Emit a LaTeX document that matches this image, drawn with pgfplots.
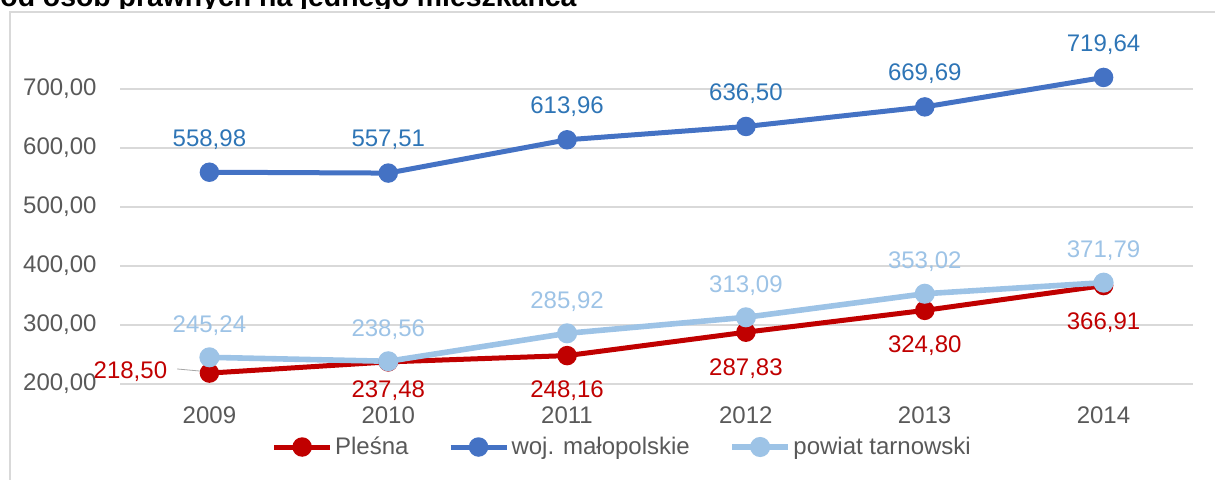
\documentclass[border=0pt]{standalone}
\usepackage{pgfplots}
\pgfplotsset{compat=1.18}
\usepackage{fontspec}
\setmainfont{Liberation Sans}
\definecolor{cred}{HTML}{C00000}
\definecolor{cblue}{HTML}{4472C4}
\definecolor{cblab}{HTML}{2E75B6}
\definecolor{clight}{HTML}{9DC3E6}
\definecolor{cgrid}{HTML}{D9D9D9}
\definecolor{ctext}{HTML}{595959}
\tikzset{plnum/.style={/pgf/number format/fixed, /pgf/number format/fixed zerofill,
  /pgf/number format/precision=2, /pgf/number format/use comma,
  /pgf/number format/1000 sep={}, /pgf/number format/assume math mode=true}}
\newcommand\f{\fontsize{12}{14}\selectfont}
\begin{document}
\begin{tikzpicture}
\useasboundingbox (0,0) rectangle (607.5pt,-239.5pt);
\begin{scope}
\clip (-2pt,2pt) rectangle (607.5pt,-4pt);
\node[anchor=base west, inner sep=0pt, font=\bfseries\fontsize{14.2}{16}\selectfont] at (0pt,-3.2pt) {od osób prawnych na jednego mieszkańca};
\end{scope}
\draw[cgrid, line width=0.8pt] (5pt,-6pt) rectangle (640pt,-280pt);
\begin{axis}[
  scale only axis, width=536.5pt, height=177pt,
  at={(60pt,-192pt)}, anchor=south west,
  xmin=2008.5, xmax=2014.5, ymin=200, ymax=800,
  xtick={2009,...,2014}, ytick={200,300,...,700},
  ymajorgrids, grid style={cgrid, line width=0.8pt},
  axis line style={draw=none}, major tick length=0pt,
  clip=false,
  tick label style={font=\f, text=ctext},
  xticklabel style={/pgf/number format/1000 sep={}, /pgf/number format/assume math mode=true, anchor=center, yshift=-15.5pt},
  yticklabel style={plnum, anchor=east, inner sep=0pt, xshift=-11.5pt},
  nodes near coords style={plnum, font=\f, anchor=center, inner sep=0pt},
  legend columns=3,
  legend style={at={(0.5,0)}, anchor=center, xshift=-17pt, yshift=-31.5pt,
    draw=none, fill=none, font=\f, text=ctext, inner sep=0pt,
    /tikz/every even column/.append style={column sep=18.5pt},
    nodes={inner sep=1.25pt}},
  legend image code/.code={\draw[mark repeat=2,mark phase=2,#1] plot coordinates {(0pt,0pt)(14pt,0pt)(28pt,0pt)};},
]
\addplot[cred, line width=2.5pt, mark=*, mark size=3.6pt,
  visualization depends on={\thisrow{dx}\as\dx},
  visualization depends on={\thisrow{dy}\as\dy},
  nodes near coords,
  every node near coord/.append style={text=cred, xshift=\dx pt, yshift=\dy pt}]
  table {
x y dx dy
2009 218.50 -39.5 0.5
2010 237.48 0 -14.5
2011 248.16 0 -17.5
2012 287.83 0 -18
2013 324.80 0 -17.5
2014 366.91 0 -18.5
};
\addlegendentry{Pleśna}
\addplot[cblue, line width=2.5pt, mark=*, mark size=3.6pt,
  nodes near coords,
  every node near coord/.append style={text=cblab, yshift=16.5pt}]
  table {
x y
2009 558.98
2010 557.51
2011 613.96
2012 636.50
2013 669.69
2014 719.64
};
\addlegendentry{woj. małopolskie}
\addplot[clight, line width=2.8pt, mark=*, mark size=3.6pt,
  nodes near coords,
  every node near coord/.append style={text=clight, yshift=16pt}]
  table {
x y
2009 245.24
2010 238.56
2011 285.92
2012 313.09
2013 353.02
2014 371.79
};
\addlegendentry{powiat tarnowski}
\draw[gray!70, line width=0.4pt] (axis cs:2008.82,225.5) -- (axis cs:2008.965,221.5);
\end{axis}
\end{tikzpicture}
\end{document}
